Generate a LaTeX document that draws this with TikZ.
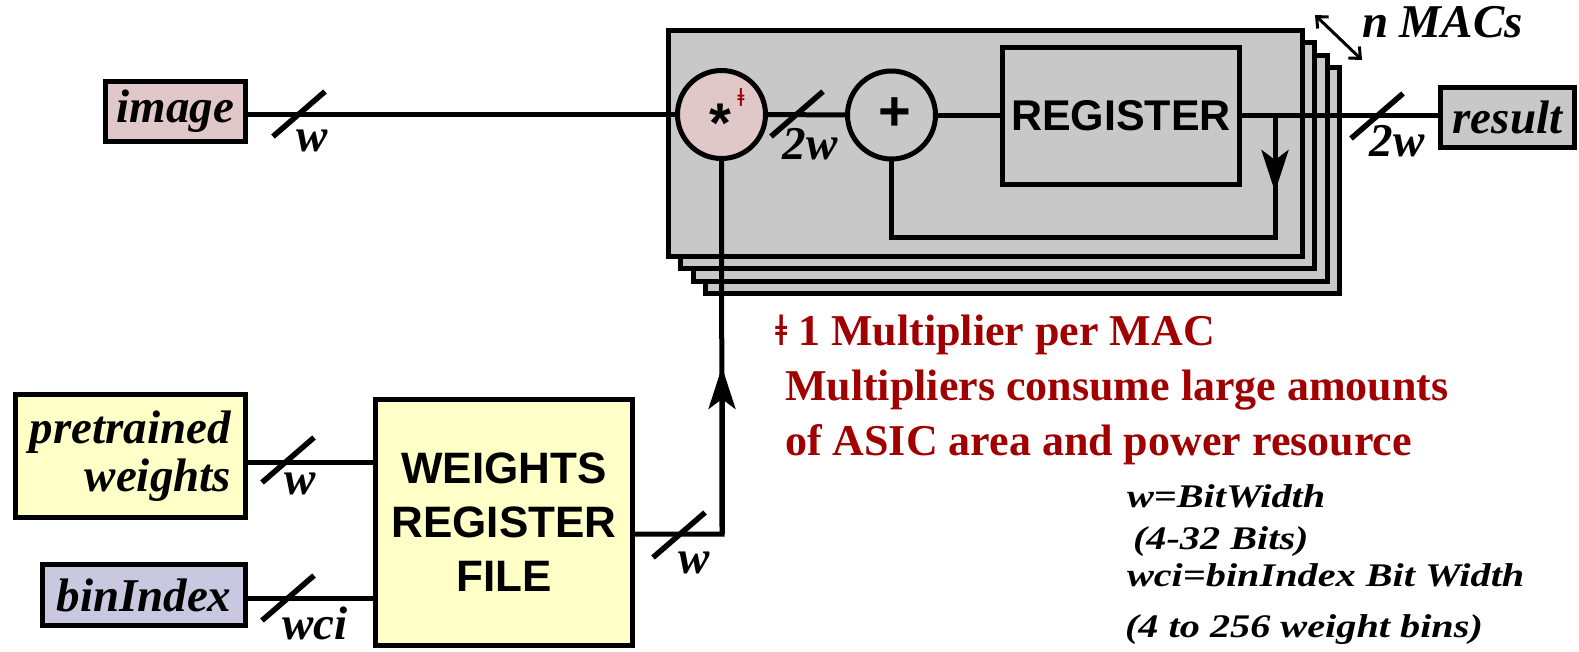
\documentclass[tikz,border=0pt]{standalone}
\usepackage{fontspec}
\setmainfont{Liberation Serif}
\newfontfamily\arialfam{Liberation Sans}
\usepackage{graphicx}
\usetikzlibrary{arrows.meta,calc}
\definecolor{macgray}{RGB}{200,200,200}
\definecolor{imgpink}{RGB}{224,200,200}
\definecolor{wyellow}{RGB}{255,255,200}
\definecolor{binblue}{RGB}{200,200,224}
\definecolor{noteRed}{RGB}{160,0,0}
\newcommand\bifont{\fontsize{47}{45}\selectfont\bfseries\itshape}
\newcommand\sbfont{\fontsize{44}{54}\selectfont\arialfam\bfseries}
\newcommand\notefont{\fontsize{44}{55}\selectfont\bfseries}
\newcommand\smallbi{\fontsize{33}{33}\selectfont\bfseries\itshape}
\tikzset{
  every node/.style={inner sep=0pt, outer sep=0pt},
  wire/.style={line width=5pt},
  blockbox/.style={draw, line width=5pt, rectangle},
  opcircle/.style={draw, line width=5pt, circle, minimum size=88pt},
  busslash/.style={line width=5.5pt},
  buslabel/.style={font=\bifont},
  midarrow/.style={line width=5pt, -{Stealth[length=42pt,width=27pt,inset=10pt]}},
  note/.style={font=\notefont, text=noteRed, anchor=base west},
  legend/.style={font=\smallbi, anchor=base west},
}
\begin{document}
\begin{tikzpicture}[x=1pt,y=-1pt]
\useasboundingbox (0,0) rectangle (1579,651);
% stacked MAC boxes
\foreach \k in {3,2,1,0} {
  \draw[line width=5pt, fill=macgray] (668+12.5*\k, 30+12.5*\k) rectangle (1302+12.5*\k, 256+12.5*\k);
}
% blocks
\node[blockbox, fill=imgpink, minimum width=140pt, minimum height=60pt, font=\bifont] (image) at (175.5,111) {image};
\node[opcircle, fill=imgpink] (mult) at (721.5,114.5) {};
\node[opcircle] (adder) at (891.5,115) {};
\node[blockbox, minimum width=237pt, minimum height=137pt, font=\fontsize{43}{43}\selectfont\arialfam\bfseries] (reg) at (1121,116) {REGISTER};
\node[blockbox, fill=macgray, minimum width=134pt, minimum height=60pt, font=\bifont] (result) at (1507.5,117.5) {result};
\node[blockbox, fill=wyellow, minimum width=257pt, minimum height=246pt, font=\sbfont, align=center] (wrf) at (504,522.5) {WEIGHTS\\REGISTER\\FILE};
\node[blockbox, fill=wyellow, minimum width=230pt, minimum height=123pt, font={\fontsize{47}{48}\selectfont\bfseries\itshape}, align=right] (pre) at (130.5,456) {pretrained\\weights};
\node[blockbox, fill=binblue, minimum width=203pt, minimum height=61pt, font=\bifont] (bin) at (144,595) {binIndex};
% operator symbols
\node[font=\fontsize{56}{56}\selectfont\arialfam\bfseries, anchor=base] (star) at (720,142) {*};
\node[font=\fontsize{26}{26}\selectfont\bfseries, text=noteRed, anchor=base] (dag) at (741,106) {ǂ};
\node[font=\fontsize{56}{56}\selectfont\arialfam\bfseries, anchor=base] (plus) at (895,130) {+};
% helper coordinates
\coordinate (fb) at (1275,115);
\coordinate (fbc) at (1275,237);
\coordinate (fbt) at (1275,192);
\coordinate (wc) at (722,534);
\coordinate (wt) at (722,367);
% wires
\draw[wire] (image.east |- mult.west) -- (mult.west);
\draw[wire] (mult.east) -- (adder.west);
\draw[wire] (adder.east) -- (adder.east -| reg.west);
\draw[wire] (reg.east |- adder.east) -- (result.west |- adder.east);
\draw[wire] (fb) -- (fbc) -| (adder.south);
\draw[midarrow] (fb) -- (fbt);
\draw[wire] (pre.east |- 0,462) -- (wrf.west |- 0,462);
\draw[wire] (bin.east |- 0,598) -- (wrf.west |- 0,598);
\draw[wire] (wrf.east |- wc) -- (wc) -- (mult.south);
\draw[midarrow] (wc) -- (wt);
% bus slashes
\foreach \x/\y in {299/114, 797/114, 1377/116, 288/460, 288/598, 679/535}
  \draw[busslash] (\x-26,\y+22.5) -- (\x+26,\y-22.5);
% bus labels
\node[buslabel] (lw1) at (312,141) {w};
\node[buslabel] (l2w1) at (810,144) {2w};
\node[buslabel] (l2w2) at (1397,141) {2w};
\node[buslabel] (lw2) at (300,484) {w};
\node[buslabel] (lwci) at (315,623) {wci};
\node[buslabel] (lw3) at (694,563) {w};
% n MACs
\coordinate (na) at (1315,15);
\coordinate (nb) at (1362,60);
\draw[line width=3pt, {Straight Barb[length=9pt,width=16pt]}-{Straight Barb[length=9pt,width=16pt]}] (na) -- (nb);
\node[font=\bifont, anchor=base west] (nmacs) at (1362,37) {n MACs};
% notes
\node[note] (n1) at (775,345) {ǂ 1 Multiplier per MAC};
\node[note] (n2) at (785,400) {Multipliers consume large amounts};
\node[note] (n3) at (785,455) {of ASIC area and power resource};
% legend
\node[legend] (g1) at (1127,507) {\scalebox{1.22}[1]{w=BitWidth}};
\node[legend] (g2) at (1133,549) {\scalebox{1.22}[1]{(4-32 Bits)}};
\node[legend] (g3) at (1127,586) {\scalebox{1.22}[1]{wci=binIndex Bit Width}};
\node[legend] (g4) at (1125,637) {\scalebox{1.22}[1]{(4 to 256 weight bins)}};
\end{tikzpicture}
\end{document}
